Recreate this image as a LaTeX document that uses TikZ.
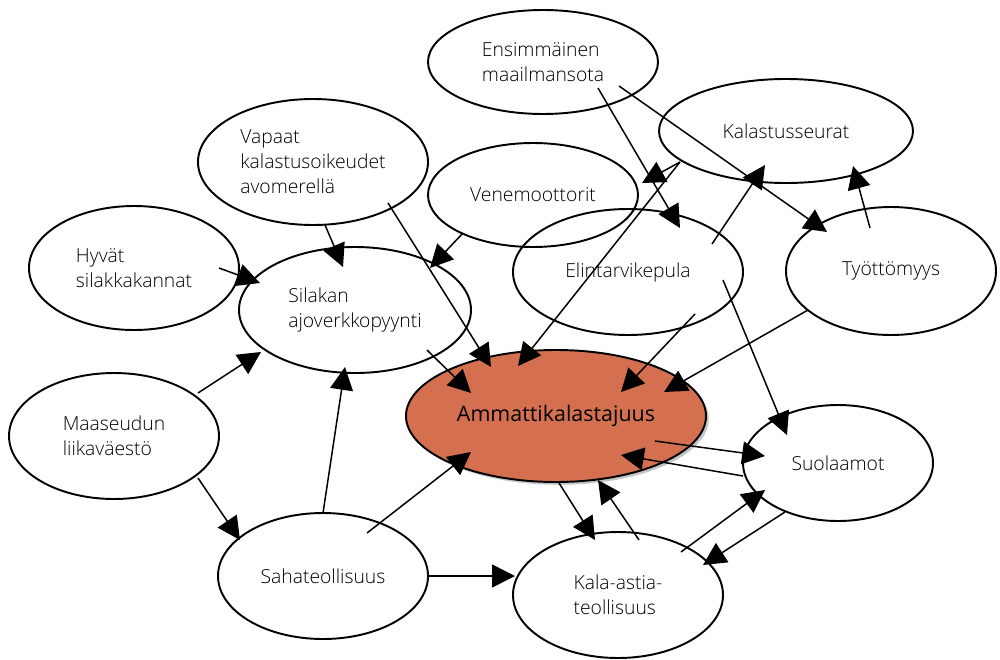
\documentclass[tikz,border=0pt]{standalone}
\usepackage{fontspec}
\setmainfont{Open Sans Light}
\newfontfamily\centrefont{Open Sans}
\usetikzlibrary{arrows.meta,shapes.geometric,shadows}

\definecolor{kalaorange}{RGB}{212,112,80}

\begin{document}
\begin{tikzpicture}[x=0.02cm, y=-0.02cm, line width=0.85pt, ->,
  >={Triangle[length=13pt,width=13pt]},
  idea/.style={draw, ellipse, line width=1.1pt, inner sep=0pt, align=left,
    font=\fontsize{11}{14.2}\selectfont},
  sz/.style 2 args={minimum width=#1*0.02cm, minimum height=#2*0.02cm}]

  \useasboundingbox (0,0) rectangle (1000,659);

  \node [idea, sz={230}{104}] (ens) at (543,62) {Ensimmäinen\\maailmansota};
  \node [idea, sz={230}{126}] (vapaat) at (313,162) {Vapaat\\kalastusoikeudet\\avomerellä};
  \node [idea, sz={210}{124}] (hyvat) at (134,268) {Hyvät\\silakkakannat};
  \node [idea, sz={232}{126}] (silakka) at (355,310) {Silakan\\ajoverkkopyynti};
  \node [idea, sz={210}{104}] (vene) at (533,195) {Venemoottorit};
  \node [idea, sz={254}{104}] (seurat) at (786,131) {Kalastusseurat};
  \node [idea, sz={230}{126}] (pula) at (628,272) {Elintarvikepula};
  \node [idea, sz={210}{128}] (tyott) at (891,271) {Työttömyys};
  \node [idea, sz={210}{126}] (maaseutu) at (114,436) {Maaseudun\\liikaväestö};
  \node [idea, sz={210}{126}] (saha) at (323,576) {Sahateollisuus};
  \node [idea, sz={190}{116}] (suola) at (838,463) {Suolaamot};
  \node [idea, sz={210}{126}] (astia) at (618,595) {Kala-astia-\\teollisuus};
  \node [idea, sz={300}{132}, fill=kalaorange, font=\centrefont\fontsize{12.2}{14}\selectfont,
    drop shadow={shadow xshift=1.6pt, shadow yshift=-1.6pt, fill=black!45}] (ammatti) at (556,416) {Ammattikalastajuus};

  % top of the web
  \path ([shift={(55,26)}]ens.center) edge ([shift={(52,-44)}]pula.center);
  \path ([shift={(76,24)}]ens.center) edge ([shift={(-64,-39)}]tyott.center);
  \path ([shift={(-106,31)}]seurat.center) edge ([shift={(109,-12)}]vene.center);
  \path ([shift={(-106,31)}]seurat.center) edge ([shift={(-38,-50)}]ammatti.center);
  \path ([shift={(84,-28)}]pula.center) edge ([shift={(-21,34)}]seurat.center);
  \path ([shift={(-21,-43)}]tyott.center) edge ([shift={(67,35)}]seurat.center);
  \path ([shift={(67,42)}]pula.center) edge ([shift={(65,-24)}]ammatti.center);
  \path ([shift={(95,8)}]pula.center) edge ([shift={(-51,-28)}]suola.center);
  \path ([shift={(-83,39)}]tyott.center) edge ([shift={(108,-24)}]ammatti.center);

  % left side
  \path ([shift={(12,63)}]vapaat.center) edge ([shift={(-12,-43)}]silakka.center);
  \path ([shift={(75,41)}]vapaat.center) edge ([shift={(-65,-49)}]ammatti.center);
  \path ([shift={(-70,38)}]vene.center) edge ([shift={(75,-42)}]silakka.center);
  \path ([shift={(85,0)}]hyvat.center) edge ([shift={(-95,-27)}]silakka.center);
  \path ([shift={(72,40)}]silakka.center) edge ([shift={(-85,-23)}]ammatti.center);
  \path ([shift={(84,-43)}]maaseutu.center) edge ([shift={(-94,42)}]silakka.center);
  \path ([shift={(84,42)}]maaseutu.center) edge ([shift={(-83,-36)}]saha.center);
  \path ([shift={(0,-63)}]saha.center) edge ([shift={(-10,57)}]silakka.center);
  \path ([shift={(44,-43)}]saha.center) edge ([shift={(-85,36)}]ammatti.center);
  \path (saha.east) edge ([shift={(-103,-19)}]astia.center);

  % bottom right
  \path ([shift={(3,67)}]ammatti.center) edge ([shift={(-23,-55)}]astia.center);
  \path ([shift={(21,-55)}]astia.center) edge ([shift={(42,64)}]ammatti.center);
  \path ([shift={(99,25)}]ammatti.center) edge ([shift={(-73,-7)}]suola.center);
  \path ([shift={(-95,13)}]suola.center) edge ([shift={(65,39)}]ammatti.center);
  \path ([shift={(63,-43)}]astia.center) edge ([shift={(-73,27)}]suola.center);
  \path ([shift={(-53,49)}]suola.center) edge ([shift={(85,-30)}]astia.center);
\end{tikzpicture}
\end{document}
